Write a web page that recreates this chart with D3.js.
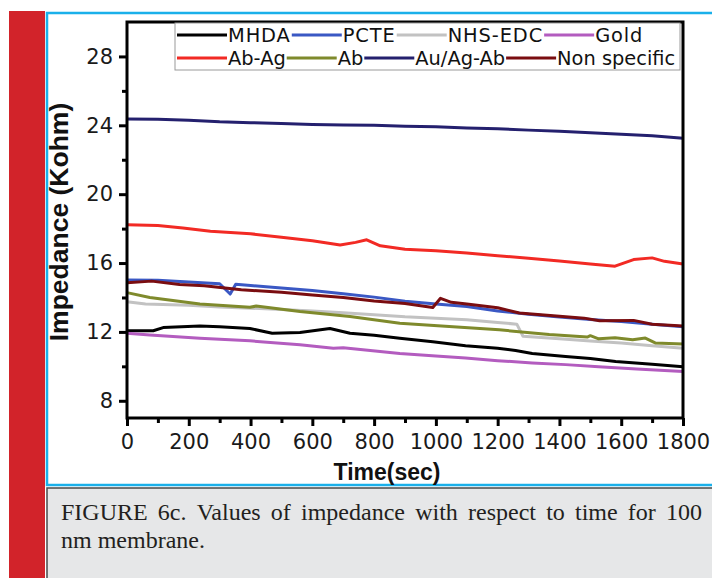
<!DOCTYPE html>
<meta charset="utf-8">
<style>

body {
  margin: 0;
  background: #fff;
}

.line {
  fill: none;
  stroke-width: 3px;
  stroke-linejoin: round;
}

.axis text {
  font-family: "DejaVu Sans";
  font-size: 21px;
  fill: #1a1a1a;
}

.axis line {
  stroke: #000;
  stroke-width: 3px;
}

.axis path {
  display: none;
}

</style>
<svg></svg>
<script src="https://cdn.jsdelivr.net/npm/d3@7"></script>
<script>

var width = 712,
    height = 578;

// values, [time (s), impedance (kOhm)]
var mhda = [[0,12.07],[85,12.07],[117,12.25],[236,12.35],[300,12.3],[398,12.2],[470,11.92],[560,11.97],[657,12.2],[722,11.92],[800,11.8],[883,11.63],[990,11.43],[1096,11.2],[1200,11.05],[1258,10.92],[1312,10.75],[1420,10.57],[1500,10.45],[1582,10.28],[1700,10.12],[1800,9.98]];
var pcte = [[0,15.02],[100,15.0],[200,14.9],[300,14.8],[334,14.2],[352,14.77],[400,14.7],[500,14.55],[600,14.4],[700,14.22],[800,14.02],[900,13.78],[1000,13.62],[1100,13.48],[1200,13.22],[1300,13.02],[1400,12.87],[1500,12.72],[1600,12.6],[1700,12.45],[1800,12.3]];
var nhsEdc = [[0,13.75],[60,13.62],[200,13.55],[300,13.45],[400,13.38],[500,13.3],[600,13.22],[700,13.12],[800,13.0],[900,12.88],[1000,12.8],[1100,12.7],[1200,12.55],[1262,12.45],[1282,11.75],[1400,11.6],[1500,11.47],[1600,11.35],[1700,11.2],[1800,11.05]];
var gold = [[0,11.92],[74,11.82],[236,11.63],[398,11.48],[560,11.25],[668,11.05],[700,11.08],[883,10.74],[1000,10.6],[1096,10.48],[1200,10.33],[1312,10.2],[1420,10.1],[1527,9.98],[1650,9.85],[1800,9.7]];
var abAg = [[0,18.22],[100,18.18],[181,18.04],[270,17.85],[400,17.7],[500,17.5],[600,17.3],[690,17.05],[740,17.2],[776,17.35],[820,17.0],[900,16.8],[1000,16.72],[1100,16.58],[1200,16.42],[1300,16.28],[1400,16.12],[1500,15.95],[1580,15.82],[1640,16.2],[1700,16.3],[1740,16.1],[1800,15.95]];
var ab = [[0,14.28],[74,14.0],[236,13.62],[398,13.43],[418,13.5],[560,13.18],[722,12.9],[883,12.5],[1043,12.32],[1205,12.12],[1367,11.85],[1490,11.7],[1500,11.78],[1527,11.6],[1580,11.66],[1637,11.55],[1678,11.64],[1710,11.36],[1800,11.3]];
var auAgAb = [[0,24.37],[100,24.35],[200,24.3],[300,24.2],[400,24.15],[500,24.1],[600,24.05],[700,24.02],[800,24.0],[900,23.95],[1000,23.92],[1100,23.85],[1200,23.8],[1300,23.72],[1400,23.65],[1500,23.57],[1600,23.48],[1700,23.4],[1800,23.25]];
var nonSpecific = [[0,14.85],[80,14.95],[170,14.75],[250,14.68],[370,14.45],[500,14.3],[600,14.15],[700,14.0],[800,13.8],[900,13.65],[990,13.42],[1015,13.95],[1050,13.72],[1100,13.62],[1200,13.4],[1270,13.1],[1370,12.95],[1480,12.8],[1530,12.65],[1640,12.67],[1700,12.45],[1800,12.35]];

var names = ["MHDA", "PCTE", "NHS-EDC", "Gold", "Ab-Ag", "Ab", "Au/Ag-Ab", "Non specific"];
var colors = ["#000000", "#3a58c4", "#c2c2c2", "#b35cbf", "#f22a24", "#7f8a2c", "#24206e", "#7a0d10"];
var values = [mhda, pcte, nhsEdc, gold, abAg, ab, auAgAb, nonSpecific];

var xTicks = [0, 200, 400, 600, 800, 1000, 1200, 1400, 1600, 1800],
    xMinor = [100, 300, 500, 700, 900, 1100, 1300, 1500, 1700],
    yTicks = [8, 12, 16, 20, 24, 28],
    yMinor = [10, 14, 18, 22, 26];

var caption1 = "FIGURE 6c. Values of impedance with respect to time for 100",
    caption2 = "nm membrane.";

var svg = d3.select("svg")
    .attr("width", width)
    .attr("height", height);

// page furniture: red side bar, blue frame, grey caption box
svg.append("rect")
    .attr("x", 9).attr("y", 11)
    .attr("width", 36).attr("height", height - 11)
    .attr("fill", "#d2232a");

svg.append("rect")
    .attr("x", 47).attr("y", 13)
    .attr("width", width).attr("height", 472)
    .attr("fill", "none")
    .attr("stroke", "#1ab0ea")
    .attr("stroke-width", 2.5);

svg.append("rect")
    .attr("x", 47).attr("y", 488)
    .attr("width", width).attr("height", height)
    .attr("fill", "#e6e7e8")
    .attr("stroke", "#4a4a4a")
    .attr("stroke-width", 1.5);

var margin = {top: 22, right: 29, bottom: 160, left: 127};

var x = d3.scaleLinear()
    .domain([0, 1800])
    .range([margin.left, width - margin.right]);

var y = d3.scaleLinear()
    .domain([7, 30])
    .range([418, margin.top]);

var line = d3.line()
    .x(function(d) { return x(d[0]); })
    .y(function(d) { return y(d[1]); });

var plot = svg.append("g");

plot.selectAll(".line")
    .data(values)
  .enter().append("path")
    .attr("class", "line")
    .attr("stroke", function(d, i) { return colors[i]; })
    .attr("d", line);

// axes
svg.append("g")
    .attr("class", "axis")
    .attr("transform", "translate(0,418)")
    .call(d3.axisBottom(x).tickValues(xTicks).tickSize(8).tickPadding(8).tickFormat(d3.format("d")));

svg.append("g")
    .attr("class", "axis")
    .attr("transform", "translate(0,418)")
    .call(d3.axisBottom(x).tickValues(xMinor).tickSize(5).tickFormat(""));

svg.append("g")
    .attr("class", "axis")
    .attr("transform", "translate(" + margin.left + ",0)")
    .call(d3.axisLeft(y).tickValues(yTicks).tickSize(8).tickPadding(6));

svg.append("g")
    .attr("class", "axis")
    .attr("transform", "translate(" + margin.left + ",0)")
    .call(d3.axisLeft(y).tickValues(yMinor).tickSize(5).tickFormat(""));

svg.append("rect")
    .attr("x", x(0)).attr("y", y(30))
    .attr("width", x(1800) - x(0))
    .attr("height", y(7) - y(30))
    .attr("fill", "none")
    .attr("stroke", "#000")
    .attr("stroke-width", 3);

svg.append("text")
    .attr("transform", "translate(68," + (y(18.5) + 2) + ") rotate(-90)")
    .attr("text-anchor", "middle")
    .style("font-family", "Liberation Sans")
    .style("font-weight", "bold")
    .style("font-size", "26.5px")
    .attr("fill", "#111")
    .text("Impedance (Kohm)");

svg.append("text")
    .attr("x", 387)
    .attr("y", 480)
    .attr("text-anchor", "middle")
    .style("font-family", "Liberation Sans")
    .style("font-weight", "bold")
    .style("font-size", "23px")
    .attr("fill", "#111")
    .text("Time(sec)");

// legend: two rows, each swatch runs straight into the previous label
var legend = svg.append("g");

legend.append("rect")
    .attr("x", 175).attr("y", 23)
    .attr("width", 505).attr("height", 47)
    .attr("fill", "#fff")
    .attr("stroke", "#9a9a9a")
    .attr("stroke-width", 1);

[[0, 1, 2, 3], [4, 5, 6, 7]].forEach(function(row, r) {
  var cy = 35 + r * 23, cx = 177;
  row.forEach(function(i) {
    legend.append("line")
        .attr("x1", cx).attr("x2", cx + 50)
        .attr("y1", cy).attr("y2", cy)
        .attr("stroke", colors[i])
        .attr("stroke-width", 3);
    cx += 51;
    var t = legend.append("text")
        .attr("x", cx).attr("y", cy + 7)
        .style("font-family", "DejaVu Sans")
        .style("font-size", "19.4px")
        .style("letter-spacing", r ? "0px" : "0.9px")
        .attr("fill", "#111")
        .text(names[i]);
    cx += t.node().getComputedTextLength() + 1;
  });
});

// caption, first line justified
var cap = svg.append("g")
    .style("font-family", "Liberation Serif")
    .style("font-size", "24px")
    .attr("fill", "#231f20");

var words = caption1.split(" "),
    left = 61, right = 702,
    widths = words.map(function(w) {
      var t = cap.append("text").text(w);
      var l = t.node().getComputedTextLength();
      t.remove();
      return l;
    }),
    gap = (right - left - d3.sum(widths)) / (words.length - 1),
    wx = left;

words.forEach(function(w, i) {
  cap.append("text").attr("x", wx).attr("y", 520).text(w);
  wx += widths[i] + gap;
});

cap.append("text").attr("x", left).attr("y", 548).text(caption2);

</script>
